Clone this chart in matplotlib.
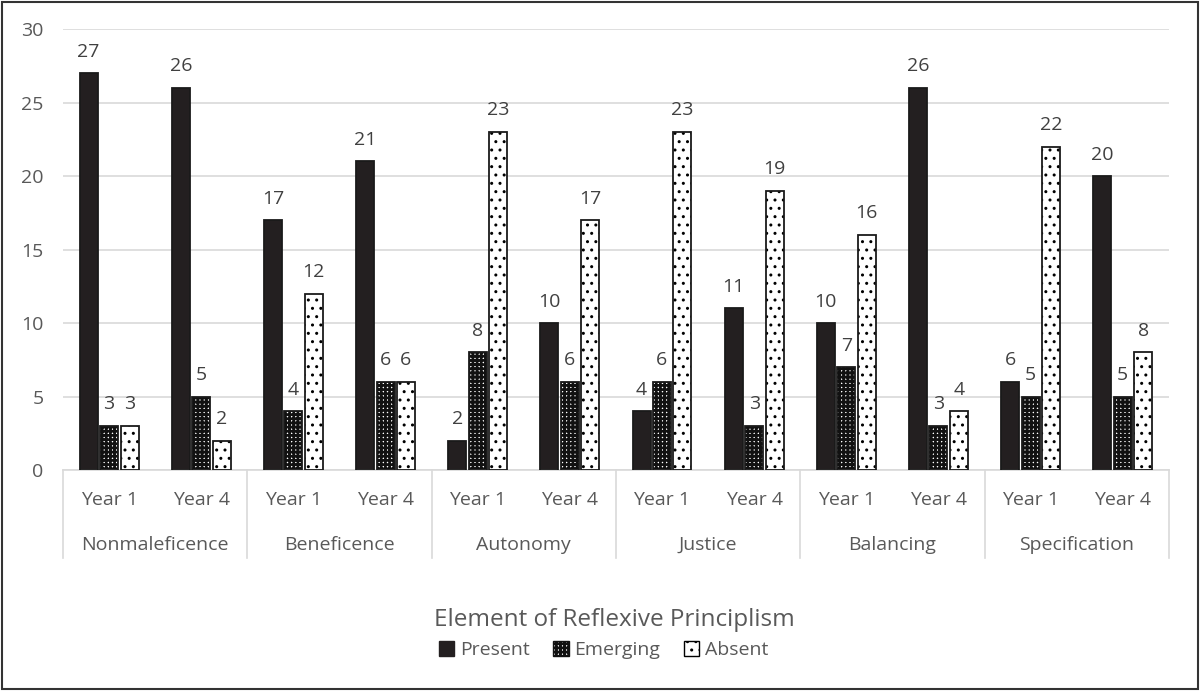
import numpy as np
import matplotlib
matplotlib.use("Agg")
import matplotlib.pyplot as plt
from matplotlib.patches import Patch, Rectangle
from matplotlib.transforms import blended_transform_factory

plt.rcParams['font.family'] = ['Open Sans', 'DejaVu Sans']

# data
groups = ["Nonmaleficence", "Beneficence", "Autonomy", "Justice", "Balancing", "Specification"]
years = ["Year 1", "Year 4"]
present = [27, 26, 17, 21, 2, 10, 4, 11, 10, 26, 6, 20]
emerging = [3, 5, 4, 6, 8, 6, 6, 3, 7, 3, 5, 5]
absent = [3, 2, 12, 6, 23, 17, 23, 19, 16, 4, 22, 8]

TXT = "#595959"
LBL = "#404040"
GRID = "#d9d9d9"
FS = 14
EM_LW = 2.0

fig = plt.figure(figsize=(12, 6.91), dpi=100)
ax = fig.add_axes([0.0525, 0.3198, 0.9215, 0.6382])

x = np.arange(len(present))
w = 0.195
pitch = 0.222


def draw(offset, vals, face, hcol, hatch, hlw):
    xs = x + offset
    with plt.rc_context({'hatch.linewidth': hlw}):
        bars = ax.bar(xs, vals, w, color=face, edgecolor=hcol, hatch=hatch, linewidth=0, zorder=2)
    for b in bars:
        if hasattr(b, "set_hatch_linewidth"):
            b.set_hatch_linewidth(hlw)
    ax.bar(xs, vals, w, fill=False, edgecolor="#1a1a1a", linewidth=1.3, zorder=3)
    for xi, v in zip(xs, vals):
        ax.text(xi, v + 0.85, str(v), ha="center", va="bottom", fontsize=FS, color=LBL)


draw(-pitch, present, "#231f20", "#231f20", None, 1.0)
draw(0, emerging, "white", "#111111", "++++", EM_LW)
draw(pitch, absent, "white", "black", "..", 1.0)

ax.set_xlim(-0.5, len(present) - 0.5)
ax.set_ylim(0, 30)
ax.set_yticks(range(0, 31, 5))
ax.yaxis.grid(True, color=GRID, linewidth=1.2, zorder=0)
ax.set_axisbelow(True)
for s in ["top", "right", "left"]:
    ax.spines[s].set_visible(False)
ax.spines["bottom"].set_color(GRID)
ax.spines["bottom"].set_linewidth(1.2)
ax.tick_params(axis="y", length=0, pad=14, labelsize=FS, labelcolor=TXT)
ax.set_xticks([])

# two-level category axis
tr = blended_transform_factory(ax.transData, ax.transAxes)
for i, lab in enumerate(years * len(groups)):
    ax.text(i, -0.068, lab, transform=tr, ha="center", va="center", fontsize=FS, color=TXT)
for g, name in enumerate(groups):
    ax.text(2 * g + 0.5, -0.17, name, transform=tr, ha="center", va="center", fontsize=FS, color=TXT)
for b in np.arange(-0.5, len(present), 2):
    ax.plot([b, b], [0, -0.2], transform=tr, color=GRID, linewidth=1.2, clip_on=False)

fig.text(0.512, 0.103, "Element of Reflexive Principlism", ha="center", va="center",
         fontsize=17.5, color=TXT)

with plt.rc_context({'hatch.linewidth': EM_LW}):
    h_em = Patch(facecolor="white", edgecolor="#111111", hatch="++++", label="Emerging")
with plt.rc_context({'hatch.linewidth': 1.0}):
    h_pr = Patch(facecolor="#231f20", edgecolor="#231f20", label="Present")
    h_ab = Patch(facecolor="white", edgecolor="black", hatch="..", label="Absent")
leg = fig.legend(handles=[h_pr, h_em, h_ab], loc="center", bbox_to_anchor=(0.503, 0.059), ncol=3,
                 frameon=False, fontsize=FS, labelcolor=TXT, handlelength=0.8, handleheight=0.8,
                 handletextpad=0.3, columnspacing=1.2)
for p, hlw in zip(leg.get_patches(), [1.0, EM_LW, 1.0]):
    if hasattr(p, "set_hatch_linewidth"):
        p.set_hatch_linewidth(hlw)

fig.patches.append(Rectangle((0.002, 0.003), 0.996, 0.994, transform=fig.transFigure,
                             fill=False, edgecolor="#333333", linewidth=1.5))

fig.savefig("out.png", dpi=100)
